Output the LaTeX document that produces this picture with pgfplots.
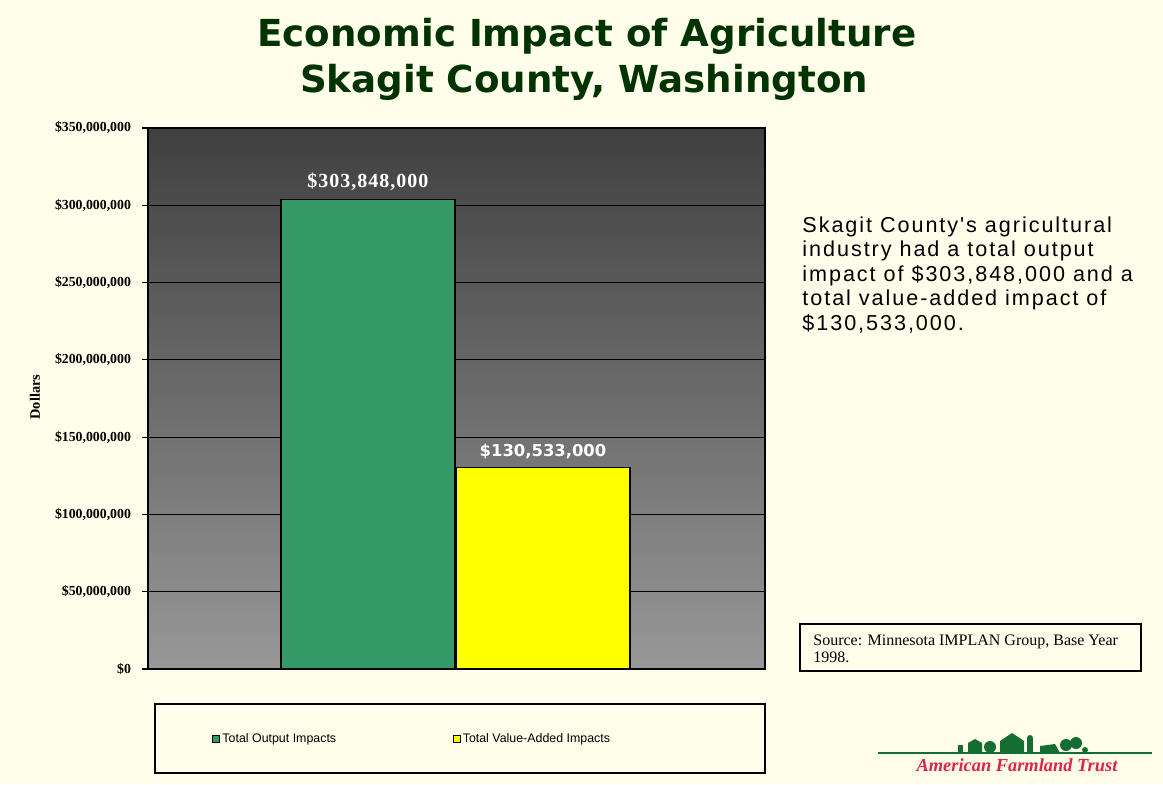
\documentclass[border=0pt]{standalone}
\usepackage{fontspec}
\setmainfont{Liberation Serif}
\newfontfamily\serifsp[LetterSpace=5]{Liberation Serif}
\newfontfamily\arial{Liberation Sans}
\newfontfamily\arialsp[LetterSpace=9]{Liberation Sans}
\newfontfamily\dejavu{DejaVu Sans}
\usepackage{pgfplots}
\pgfplotsset{compat=1.18}

\definecolor{pagebg}{RGB}{254,254,234}
\definecolor{titlegreen}{RGB}{0,51,0}
\definecolor{obar}{RGB}{51,153,102}
\definecolor{vbar}{RGB}{255,255,0}
\definecolor{gtop}{RGB}{64,64,64}
\definecolor{gbot}{RGB}{152,152,152}
\definecolor{logored}{RGB}{222,36,72}
\definecolor{logogreen}{RGB}{20,110,50}

\begin{document}
\begin{tikzpicture}
\fill[pagebg] (0,0) rectangle (581.5pt,392pt);

\begin{axis}[
    at={(74pt,57.5pt)}, anchor=south west,
    width=308.5pt, height=270.5pt, scale only axis,
    xmin=-1.2571, xmax=2.2686,
    ymin=0, ymax=350000000,
    xtick=\empty,
    ytick={0,50000000,100000000,150000000,200000000,250000000,300000000,350000000},
    yticklabels={{\$0},{\$50,000,000},{\$100,000,000},{\$150,000,000},{\$200,000,000},{\$250,000,000},{\$300,000,000},{\$350,000,000}},
    scaled y ticks=false,
    ytick pos=left, tick align=outside, major tick length=3pt,
    tick style={black, line width=0.6pt},
    ymajorgrids=true,
    grid style={black, line width=0.5pt},
    axis line style={black, line width=0.8pt},
    axis background/.style={top color=gtop, bottom color=gbot},
    yticklabel style={font=\fontsize{6.9}{7.5}\selectfont\bfseries, xshift=-2pt},
    legend image code/.code={\draw[#1, draw=black, line width=0.4pt] (0pt,-1.7pt) rectangle (3.4pt,1.7pt);},
    legend columns=2,
    legend style={at={(axis description cs:0.1037,-0.1294)}, anchor=west,
        draw=none, fill=none, inner sep=0pt,
        font=\arial\fontsize{6.2}{7}\selectfont,
        nodes={inner sep=1.25pt},
        /tikz/every even column/.append style={column sep=57pt}},
]
\addplot[ybar, bar width=87pt, bar shift=0pt, fill=obar, draw=black, line width=0.6pt,
    nodes near coords={\$303,848,000},
    nodes near coords style={white, font=\serifsp\bfseries\fontsize{10}{12}\selectfont, anchor=base, yshift=6pt, inner sep=0pt}]
    coordinates {(0,303848000)};
\addlegendentry{Total Output Impacts}
\addplot[ybar, bar width=87pt, bar shift=0pt, fill=vbar, draw=black, line width=0.6pt,
    nodes near coords={\$130,533,000},
    nodes near coords style={white, font=\dejavu\bfseries\fontsize{8.2}{9}\selectfont, anchor=base, yshift=5.5pt, inner sep=0pt}]
    coordinates {(1,130533000)};
\addlegendentry{Total Value-Added Impacts}
\end{axis}

\begin{scope}[x=0.5pt, y=-0.5pt, yshift=392pt]
  % title
  \node[anchor=base, titlegreen, font=\dejavu\bfseries\fontsize{18.6}{22}\selectfont, inner sep=0pt]
    at (587,47) {Economic Impact of Agriculture};
  \node[anchor=base, titlegreen, font=\dejavu\bfseries\fontsize{18.6}{22}\selectfont, inner sep=0pt]
    at (584,93) {Skagit County, Washington};
  % y label
  \node[rotate=90, font=\fontsize{7.2}{8}\selectfont\bfseries, inner sep=0pt] at (35,397) {Dollars};
  % side text
  \foreach \t [count=\i from 0] in {{Skagit County's agricultural},{industry had a total output},{impact of \$303,848,000 and a},{total value-added impact of},{\$130,533,000.}}
    \node[anchor=base west, inner sep=0pt, font=\arialsp\fontsize{10.8}{12}\selectfont] at (802,232+24.5*\i) {\t};
  % legend frame
  \draw[black, line width=0.75pt] (155,704) rectangle (765,773);
  % source box
  \draw[black, line width=0.75pt] (800,624) rectangle (1141,671);
  \node[anchor=base west, inner sep=0pt, font=\fontsize{8}{9}\selectfont] at (813,645) {Source: Minnesota IMPLAN Group, Base Year};
  \node[anchor=base west, inner sep=0pt, font=\fontsize{8}{9}\selectfont] at (813,662) {1998.};
  % logo
  \draw[logogreen, line width=0.6pt] (878,753) -- (1152,753);
  \fill[logogreen] (958,753) -- (958,745) -- (963,745) -- (963,753) -- cycle;
  \fill[logogreen] (968,753) -- (968,743) -- (975,739) -- (982,743) -- (982,753) -- cycle;
  \fill[logogreen] (990,747) circle (6);
  \fill[logogreen] (1000,753) -- (1000,741) -- (1012,733) -- (1024,741) -- (1024,753) -- cycle;
  \fill[logogreen] (1027,753) rectangle (1033,738);
  \fill[logogreen] (1030,738) circle (3);
  \fill[logogreen] (1040,753) -- (1040,746) -- (1055,744) -- (1060,753) -- cycle;
  \fill[logogreen] (1066,745) circle (6);
  \fill[logogreen] (1076,743) circle (6);
  \fill[logogreen] (1085,750) circle (3);
  \node[anchor=base, inner sep=0pt, logored, font=\bfseries\itshape\fontsize{9.2}{10}\selectfont] at (1017,771) {American Farmland Trust};
\end{scope}
\end{tikzpicture}
\end{document}
